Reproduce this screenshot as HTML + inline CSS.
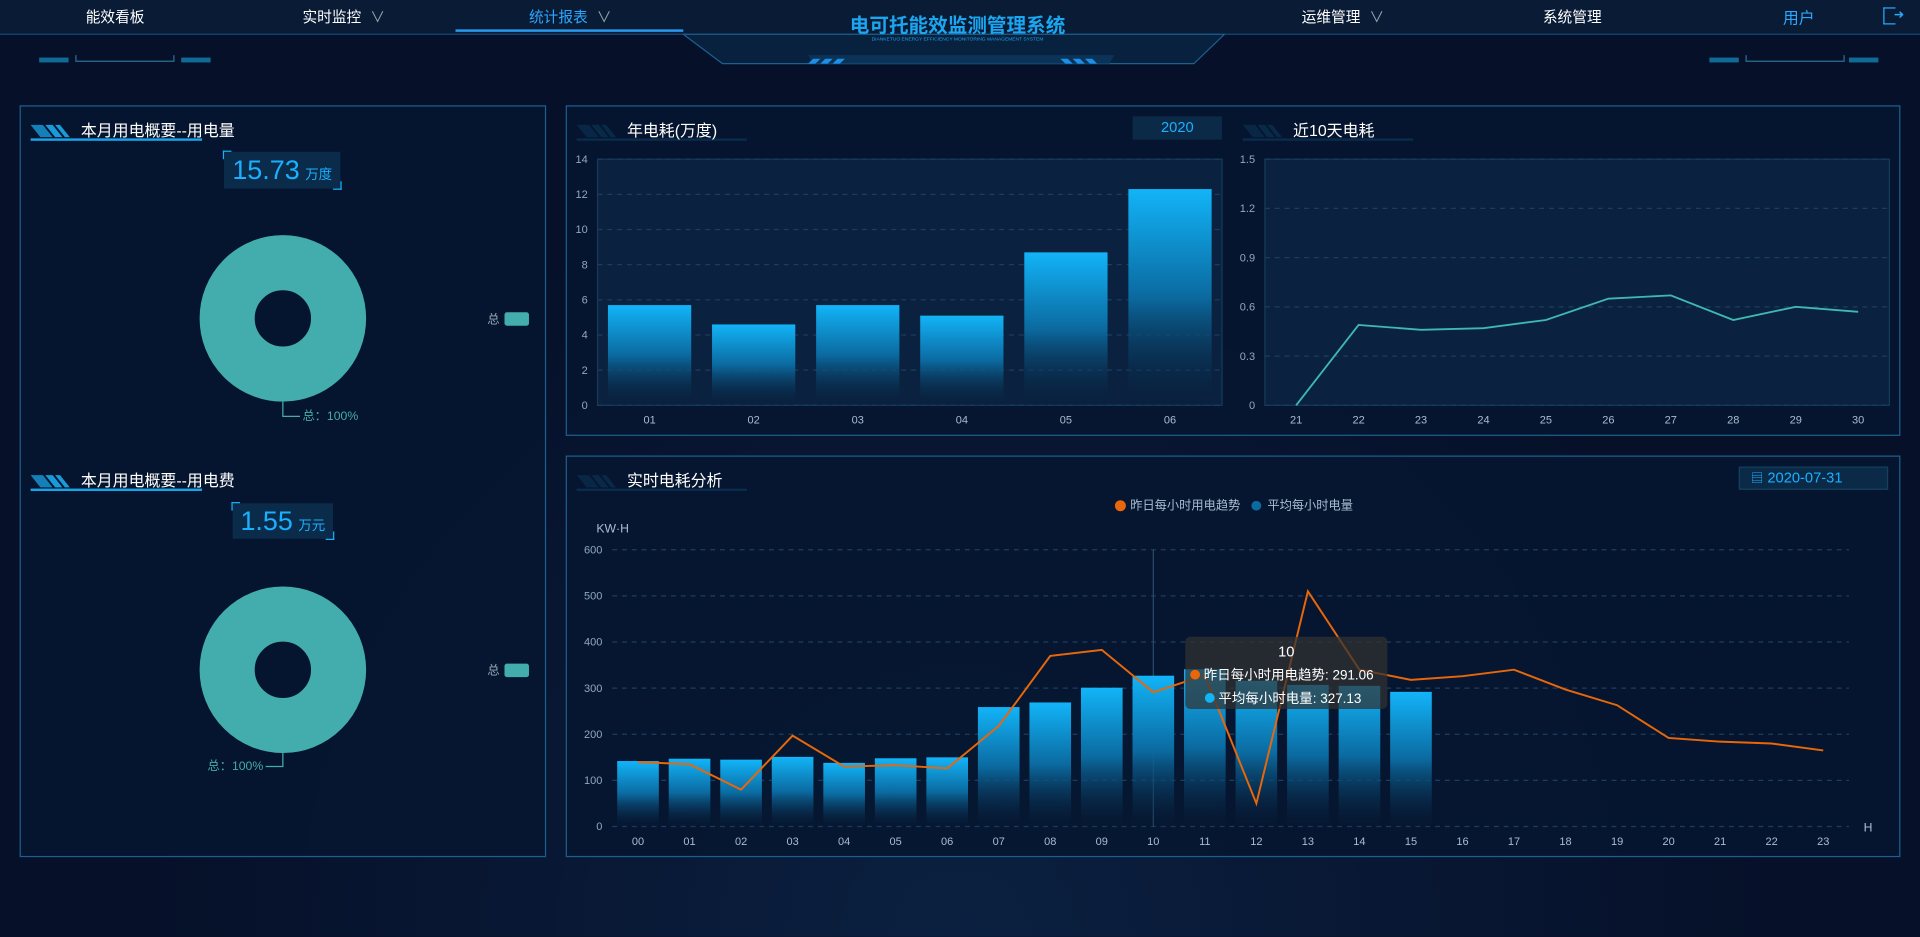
<!DOCTYPE html>
<html><head><meta charset="utf-8">
<style>
html,body{margin:0;padding:0;width:1920px;height:937px;overflow:hidden;background:#061029;}
#wrap{position:absolute;left:0;top:0;width:1568px;height:765px;transform:scale(1.22449);transform-origin:0 0;font-family:"Liberation Sans","Noto Sans CJK SC",sans-serif;color:#fff;
background:radial-gradient(ellipse at 50% 100%,#0b2040 0%,#061029 60%);}
.abs{position:absolute}
.nav{position:absolute;top:5px;font-size:12px;color:#fff;white-space:nowrap}
.nav span{margin-left:4px !important}
.panel{position:absolute;border:1px solid #1d5f8e;background:rgba(6,22,48,0.85);box-sizing:border-box}
.ttl{position:absolute;font-size:13px;color:#fff;white-space:nowrap}
.vbox{position:absolute;background:#0a2c4a;text-align:center;color:#1ab0ff}
.vbox:before,.vbox:after{content:"";position:absolute;width:6px;height:6px;border:1px solid #1ab0ff}
.vbox:before{left:-1px;top:-1px;border-right:none;border-bottom:none}
.vbox:after{right:-1px;bottom:-1px;border-left:none;border-top:none}
svg text{font-family:"Liberation Sans","Noto Sans CJK SC",sans-serif}
</style></head><body>
<div id="wrap">
<svg class="abs" style="left:0;top:0" width="1568" height="60">
<rect x="0" y="0" width="1568" height="28" fill="#0a1b36"/>
<polygon points="558,28 590,52 975,52 1000,28" fill="#08213f" stroke="#1d5f8e" stroke-width="1"/>
<line x1="0" y1="28" x2="558" y2="28" stroke="#134a75"/>
<line x1="1000" y1="28" x2="1568" y2="28" stroke="#134a75"/>
<polygon points="660,45 910,45 906,52 664,52" fill="#0b3358"/>
<g fill="#1d8fe8"><polygon points="660,52 664,48 670,48 666,52"/><polygon points="670,52 674,48 680,48 676,52"/><polygon points="680,52 684,48 690,48 686,52"/>
<polygon points="866,48 872,48 876,52 870,52"/><polygon points="876,48 882,48 886,52 880,52"/><polygon points="886,48 892,48 896,52 890,52"/></g>
<rect x="372" y="24" width="186" height="2" fill="#2a9cf0"/>
<g fill="#0f6a96"><rect x="32" y="47" width="24" height="4"/><rect x="148" y="47" width="24" height="4"/><rect x="1396" y="47" width="24" height="4"/><rect x="1510" y="47" width="24" height="4"/></g>
<polyline points="62,45 62,50 142,50 142,45" fill="none" stroke="#2a6f98"/>
<polyline points="1426,45 1426,50 1506,50 1506,45" fill="none" stroke="#2a6f98"/>
</svg>
<div class="nav" style="left:70px">能效看板</div>
<div class="nav" style="left:247px">实时监控 <span style="color:#8aa">∨</span></div>
<div class="nav" style="left:432px;color:#2aa8ff">统计报表 <span style="color:#8aa">∨</span></div>
<div class="nav" style="left:1063px">运维管理 <span style="color:#8aa">∨</span></div>
<div class="nav" style="left:1260px">系统管理</div>
<div class="nav" style="left:1456px;color:#2aa8ff;font-size:13px;top:4px">用户</div>
<div class="abs" style="left:1538px;top:6px;width:9px;height:12px;border:1.5px solid #2aa8ff;border-right:none;font-size:10px;color:#2aa8ff;line-height:12px;text-align:right"><span style="margin-right:-7px">➜</span></div>
<div class="abs" style="left:600px;width:364px;top:7px;text-align:center;font-size:16px;color:#1aa6f0;font-weight:bold">电可托能效监测管理系统</div>
<div class="abs" style="left:600px;width:364px;top:29px;text-align:center;font-size:4px;color:#1aa6f0">DIANKETUO ENERGY EFFICIENCY MONITORING MANAGEMENT SYSTEM</div>

<div class="panel" style="left:16px;top:86px;width:430px;height:614px"></div>
<svg class="abs" style="left:0;top:0" width="1568" height="765" id="deco"></svg>
<div class="ttl" style="left:66px;top:96px">本月用电概要--用电量</div>
<div class="vbox" style="left:183px;top:124px;width:95px;height:30px"><span style="font-size:22px;line-height:30px">15.73</span> <span style="font-size:11px">万度</span></div>
<div class="ttl" style="left:66px;top:382px">本月用电概要--用电费</div>
<div class="vbox" style="left:190px;top:411px;width:82px;height:29px"><span style="font-size:22px;line-height:29px">1.55</span> <span style="font-size:11px">万元</span></div>

<div class="panel" style="left:462px;top:86px;width:1090px;height:270px"></div>
<div class="ttl" style="left:512px;top:96px">年电耗(万度)</div>
<div class="abs" style="left:925px;top:95px;width:73px;height:19px;background:#0b2a48;color:#1ab0ff;font-size:12px;text-align:center;line-height:19px">2020</div>
<div class="ttl" style="left:1056px;top:96px">近10天电耗</div>

<div class="panel" style="left:462px;top:372px;width:1090px;height:328px"></div>
<div class="ttl" style="left:512px;top:382px">实时电耗分析</div>
<div class="abs" style="left:1420px;top:381px;width:122px;height:19px;background:#0b2a48;border:1px solid #12405f;box-sizing:border-box;color:#1ab0ff;font-size:12px;line-height:17px"><span style="margin-left:9px;font-size:10px">▤</span> 2020-07-31</div>

<svg class="abs" style="left:0;top:0" width="1568" height="765" id="charts">
<defs>
<linearGradient id="barg" x1="0" y1="0" x2="0" y2="1"><stop offset="0" stop-color="#12b4f8"/><stop offset="0.5" stop-color="#0b6aa0"/><stop offset="1" stop-color="#071a33" stop-opacity="0.15"/></linearGradient>
</defs>
</svg>
<div class="abs" style="left:968px;top:520px;width:165px;height:59px;background:rgba(50,50,50,0.72);border-radius:4px;font-size:11px;color:#fff;box-sizing:border-box;padding:5px 4px;white-space:nowrap">
<div style="text-align:center;font-size:12px">10</div>
<div style="margin-top:4px"><span style="display:inline-block;width:8px;height:8px;border-radius:4px;background:#e8670a"></span> 昨日每小时用电趋势: 291.06</div>
<div style="margin-top:3px;padding-left:12px"><span style="display:inline-block;width:8px;height:8px;border-radius:4px;background:#12b4f8"></span> 平均每小时电量: 327.13</div>
</div>
<script>
const NS='http://www.w3.org/2000/svg';
const svg=document.getElementById('charts');
const deco=document.getElementById('deco');
function mk(p,tag,a){const e=document.createElementNS(NS,tag);for(const k in a)e.setAttribute(k,a[k]);p.appendChild(e);return e;}
[[25,104,165],[25,390,165],[471,104,610],[1015,104,1154],[471,390,610]].forEach(t=>{
 const g=mk(deco,'g',{});
 
 
 mk(g,'polygon',{points:`${t[0]},${t[1]-2} ${t[0]+10},${t[1]-2} ${t[0]+18},${t[1]+8} ${t[0]+8},${t[1]+8}`,fill:'#1580b8'});
 mk(g,'polygon',{points:`${t[0]+12},${t[1]-2} ${t[0]+18},${t[1]-2} ${t[0]+26},${t[1]+8} ${t[0]+20},${t[1]+8}`,fill:'#1a9ad8'});
 mk(g,'polygon',{points:`${t[0]+20},${t[1]-2} ${t[0]+24},${t[1]-2} ${t[0]+32},${t[1]+8} ${t[0]+28},${t[1]+8}`,fill:'#1a9ad8'});
 mk(g,'rect',{x:t[0],y:t[1]+9,width:t[2]-t[0],height:2,fill:'#1ba3e8'});
});
const pieNames=['总'];
const pieValues1=[15.73];
const pieValues2=[1.55];
function donut(cx,cy,vals,labelLeft,name){
 const g=mk(svg,'g',{});
 
 
 const tot=vals.reduce((a,b)=>a+b,0);
 const c=mk(g,'circle',{cx:cx,cy:cy,r:45.5,fill:'none',stroke:'#43adad','stroke-width':45});
 
 
 const pct=Math.round(vals[0]/tot*100)+'%';
 if(!labelLeft){mk(g,'polyline',{points:`${cx},${cy+68} ${cx},${cy+80} ${cx+14},${cy+80}`,fill:'none',stroke:'#43adad'});
  const t=mk(g,'text',{x:cx+16,y:cy+83,fill:'#43adad','font-size':10});t.textContent=pieNames[0]+'：'+pct;}
 else{mk(g,'polyline',{points:`${cx},${cy+68} ${cx},${cy+79} ${cx-14},${cy+79}`,fill:'none',stroke:'#43adad'});
  const t=mk(g,'text',{x:cx-16,y:cy+82,fill:'#43adad','font-size':10,'text-anchor':'end'});t.textContent=pieNames[0]+'：'+pct;}
 const lg=mk(g,'g',{});
 
 
 const lt=mk(lg,'text',{x:408,y:cy+4,fill:'#9ab','font-size':10,'text-anchor':'end'});lt.textContent=pieNames[0];
 mk(lg,'rect',{x:412,y:cy-5,width:20,height:11,rx:2,fill:'#43adad'});
}
donut(231,260,pieValues1,false,'energy-donut');
donut(231,547,pieValues2,true,'cost-donut');

function bandChart(o){
 const g=mk(svg,'g',{});
 
 
 const n=o.cats.length,bw=(o.x1-o.x0)/n;
 const X=i=>o.x0+bw*(i+0.5);
 const Y=v=>o.y0-(v-o.min)/(o.max-o.min)*(o.y0-o.y1);
 if(o.bg) mk(g,'rect',{x:o.x0,y:o.y1,width:o.x1-o.x0,height:o.y0-o.y1,fill:'#0a2240',stroke:'#163a5c'});
 o.ticks.forEach((t,k)=>{const y=Y(t);
  mk(g,'line',{x1:o.x0,x2:o.x1,y1:y,y2:y,stroke:'#1d3d5e','stroke-dasharray':'4,4'});
  const tx=mk(g,'text',{x:o.x0-8,y:y+3,fill:'#8fa8c0','font-size':9,'text-anchor':'end'});tx.textContent=o.tickLabels?o.tickLabels[k]:t;});
 o.cats.forEach((c,i)=>{const t=mk(g,'text',{x:X(i),y:o.y0+15,fill:'#a8bdd0','font-size':9,'text-anchor':'middle'});t.textContent=c;});
 return {g,X,Y,bw};
}
const yearCats=['01','02','03','04','05','06'];
const yearValues=[5.7,4.6,5.7,5.1,8.7,12.3];
const yearTicks=[0,2,4,6,8,10,12,14];
const yc=bandChart({name:'yearly-bar-chart',cats:yearCats,x0:488,x1:998,y0:331,y1:130,min:0,max:14,ticks:yearTicks,bg:true});
yearValues.forEach((v,i)=>{const r=mk(yc.g,'rect',{x:yc.X(i)-34,y:yc.Y(v),width:68,height:yc.Y(0)-yc.Y(v),fill:'url(#barg)'});
 
 });
const dayCats=['21','22','23','24','25','26','27','28','29','30'];
const dayValues=[0,0.49,0.46,0.47,0.52,0.65,0.67,0.52,0.60,0.57];
const dayTicks=[0,0.3,0.6,0.9,1.2,1.5];
const dayTickLabels=['0','0.3','0.6','0.9','1.2','1.5'];
const dc=bandChart({name:'recent-days-line-chart',cats:dayCats,x0:1033,x1:1543,y0:331,y1:130,min:0,max:1.5,ticks:dayTicks,tickLabels:dayTickLabels,bg:true});
const dl=mk(dc.g,'polyline',{points:dayValues.map((v,i)=>dc.X(i)+','+dc.Y(v)).join(' '),fill:'none',stroke:'#3fb8b0','stroke-width':1.5});


const hourCats=['00','01','02','03','04','05','06','07','08','09','10','11','12','13','14','15','16','17','18','19','20','21','22','23'];
const avgValues=[142,147,145,151,138,148,150,259,269,301,327,341,316,307,305,292];
const yesterdayValues=[140,135,80,197,130,133,126,218,370,383,291,328,50,510,340,318,326,340,297,263,192,184,180,165];
const hourTicks=[0,100,200,300,400,500,600];
const hc=bandChart({name:'realtime-chart',cats:hourCats,x0:500,x1:1510,y0:675,y1:449,min:0,max:600,ticks:hourTicks,bg:false});
let t=mk(hc.g,'text',{x:487,y:435,fill:'#a8bdd0','font-size':10});t.textContent='KW·H';
t=mk(hc.g,'text',{x:1522,y:679,fill:'#a8bdd0','font-size':10});t.textContent='H';
mk(hc.g,'line',{x1:hc.X(10),x2:hc.X(10),y1:449,y2:675,stroke:'#2a4a6a'});
avgValues.forEach((v,i)=>{const r=mk(hc.g,'rect',{x:hc.X(i)-17,y:hc.Y(v),width:34,height:hc.Y(0)-hc.Y(v),fill:'url(#barg)'});
 
 });
const hl=mk(hc.g,'polyline',{points:yesterdayValues.map((v,i)=>hc.X(i)+','+hc.Y(v)).join(' '),fill:'none',stroke:'#e8670a','stroke-width':1.6});


const lg=mk(hc.g,'g',{});


mk(lg,'circle',{cx:915,cy:413,r:4.5,fill:'#e8670a'});
t=mk(lg,'text',{x:923,y:416,fill:'#a8bdd0','font-size':10});t.textContent='昨日每小时用电趋势';
mk(lg,'circle',{cx:1026,cy:413,r:4,fill:'#0b6aa0'});
t=mk(lg,'text',{x:1035,y:416,fill:'#a8bdd0','font-size':10});t.textContent='平均每小时电量';
</script>
</div>
</body></html>
